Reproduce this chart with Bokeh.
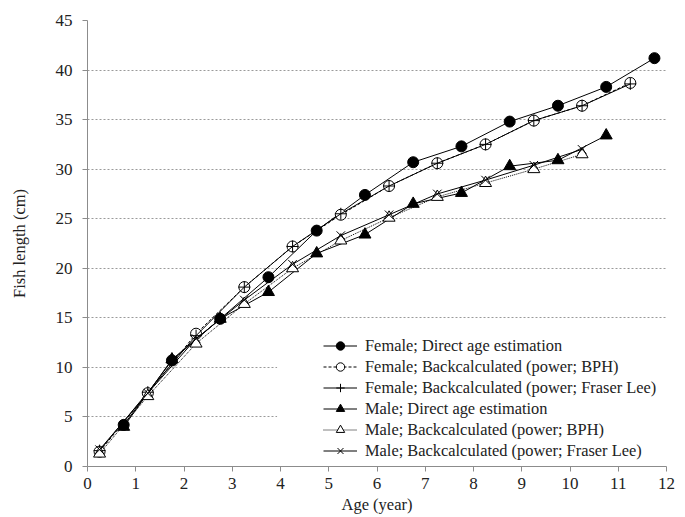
from bokeh.plotting import figure
from bokeh.models import Legend, LegendItem, BoxAnnotation, FixedTicker
from bokeh.embed import file_html
from bokeh.resources import INLINE

# ---- data ----
age_direct = [0.75, 1.75, 2.75, 3.75, 4.75, 5.75, 6.75, 7.75, 8.75, 9.75, 10.75, 11.75]
age_back = [0.25, 1.25, 2.25, 3.25, 4.25, 5.25, 6.25, 7.25, 8.25, 9.25, 10.25, 11.25]

female_direct = [4.2, 10.7, 14.9, 19.1, 23.8, 27.4, 30.7, 32.3, 34.8, 36.4, 38.3, 41.2]
female_bph = [1.5, 7.4, 13.4, 18.1, 22.2, 25.4, 28.3, 30.6, 32.5, 34.9, 36.4, 38.7]
female_fl = [1.6, 7.5, 13.2, 18.1, 22.2, 25.5, 28.3, 30.6, 32.5, 34.9, 36.4, 38.6]

male_direct = [4.0, 10.8, 14.9, 17.6, 21.5, 23.4, 26.5, 27.6, 30.3, 30.9, 33.4]
male_bph = [1.3, 7.1, 12.4, 16.4, 20.0, 22.8, 25.1, 27.2, 28.6, 30.0, 31.5]
male_fl = [1.7, 7.4, 12.9, 16.8, 20.4, 23.3, 25.4, 27.5, 28.9, 30.4, 32.0]

labels = [
    "Female; Direct age estimation",
    "Female; Backcalculated (power; BPH)",
    "Female; Backcalculated (power; Fraser Lee)",
    "Male; Direct age estimation",
    "Male; Backcalculated (power; BPH)",
    "Male; Backcalculated (power; Fraser Lee)",
]
x_ticks = list(range(0, 13))
y_ticks = list(range(0, 50, 5))

FONT = "Liberation Serif"

p = figure(width=685, height=517, x_range=(0, 12), y_range=(0, 45),
           output_backend="svg", toolbar_location=None,
           min_border_left=87, min_border_right=19, min_border_top=20, min_border_bottom=51)
p.outline_line_color = None
p.background_fill_color = "white"

# grid
p.xgrid.grid_line_color = None
p.ygrid.grid_line_color = "#9a9a9a"
p.ygrid.grid_line_dash = "2 2"
p.ygrid.grid_line_width = 1

# axes
for ax in (p.xaxis[0], p.yaxis[0]):
    ax.axis_line_color = "#8c8c8c"
    ax.major_tick_line_color = "#8c8c8c"
    ax.minor_tick_line_color = None
    ax.major_tick_in = 0
    ax.major_tick_out = 5
    ax.major_label_text_font = FONT
    ax.major_label_text_font_size = "17px"
    ax.major_label_text_color = "#222222"
    ax.axis_label_text_font = FONT
    ax.axis_label_text_font_size = "16.5px"
    ax.axis_label_text_font_style = "normal"
    ax.axis_label_text_color = "#222222"

p.xaxis.ticker = FixedTicker(ticks=x_ticks)
p.yaxis.ticker = FixedTicker(ticks=y_ticks)
p.xaxis.axis_label = "Age (year)"
p.yaxis.axis_label = "Fish length (cm)"
p.xaxis.major_label_standoff = 6
p.xaxis.axis_label_standoff = 3
p.yaxis.major_label_standoff = 10
p.yaxis.axis_label_standoff = 24

# white legend background hiding the gridlines
p.add_layout(BoxAnnotation(left=3.93, right=12, bottom=0.4, top=13.2,
                           fill_color="white", fill_alpha=1, line_color=None,
                           level="underlay"))

# series
def series(x, y, marker, fill, dash, size):
    l = p.line(x, y, line_color="black", line_width=1, line_dash=dash)
    s = p.scatter(x, y, marker=marker, size=size, line_color="black",
                  fill_color=fill, line_width=1)
    return [l, s]

r1 = series(age_direct, female_direct, "circle", "black", "solid", 11)
r2 = series(age_back, female_bph, "circle", "white", "3 2", 11)
r3 = series(age_back, female_fl, "cross", None, "solid", 12)
r4 = series(age_direct[:len(male_direct)], male_direct, "triangle", "black", "solid", 12)
r5 = series(age_back[:len(male_bph)], male_bph, "triangle", "white", "1 1", 12)
r6 = series(age_back[:len(male_fl)], male_fl, "x", None, "solid", 12)

items = [LegendItem(label=lab, renderers=r) for lab, r in zip(labels, [r1, r2, r3, r4, r5, r6])]
legend = Legend(items=items, location=(236, 5), orientation="vertical",
                label_text_font=FONT, label_text_font_size="16.4px",
                label_text_color="#222222",
                glyph_width=34, glyph_height=21, label_height=21,
                label_standoff=8, spacing=0, padding=0, margin=0,
                background_fill_alpha=0, border_line_color=None)
p.add_layout(legend)

open("out.html", "w").write(file_html(p, INLINE))
